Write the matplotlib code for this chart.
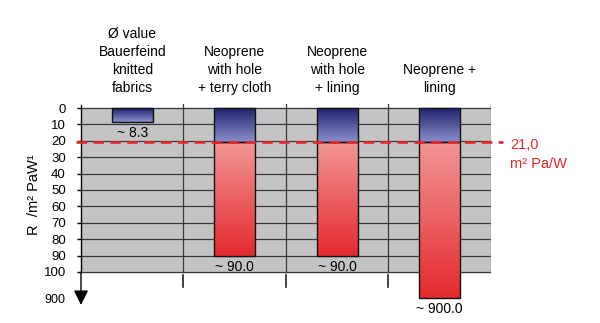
import numpy as np
import matplotlib
matplotlib.use("Agg")
import matplotlib.pyplot as plt
from matplotlib.colors import LinearSegmentedColormap
import matplotlib.transforms as mtransforms

plt.rcParams['font.family'] = ['Liberation Sans', 'DejaVu Sans']

categories = ["Ø value\nBauerfeind\nknitted\nfabrics",
              "Neoprene\nwith hole\n+ terry cloth",
              "Neoprene\nwith hole\n+ lining",
              "Neoprene +\nlining"]
values = [8.3, 90.0, 90.0, 900.0]
threshold = 21.0
threshold_label = "21,0\nm² Pa/W"
y_ticks = [0, 10, 20, 30, 40, 50, 60, 70, 80, 90, 100, 900]

BREAK = 100.0
SQUEEZE = 0.02  # everything past the break is compressed


def forward(v):
    v = np.asarray(v, dtype=float)
    return np.where(v <= BREAK, v, BREAK + (v - BREAK) * SQUEEZE)


def inverse(y):
    y = np.asarray(y, dtype=float)
    return np.where(y <= BREAK, y, BREAK + (y - BREAK) / SQUEEZE)


blue_cmap = LinearSegmentedColormap.from_list("blue", ["#1c206c", "#8b90cb"])
red_cmap = LinearSegmentedColormap.from_list("red", ["#f29696", "#e42a2e"])

fig = plt.figure(figsize=(6, 3.23), dpi=100)
ax = fig.add_axes([0.135, 0.0514, 0.6833, 0.6269])
ax.set_yscale('function', functions=(forward, inverse))
ax.set_xlim(-0.5, len(values) - 0.5)
ax.set_ylim(1150, -2.5)
ax.patch.set_visible(False)

# grey panel, horizontal grid, category separators
ax.axhspan(0, BREAK, color="#c4c4c4", zorder=0)
for t in y_ticks:
    if t <= BREAK:
        ax.axhline(t, color="#3a3a3a", lw=0.9, zorder=1)
for i in range(len(values)):
    ax.plot([i + 0.5, i + 0.5], [-2.4, BREAK], color="#3a3a3a", lw=0.9, zorder=1)
    if i < len(values) - 1:
        ax.plot([i + 0.5, i + 0.5], [190, 560], color="#222222", lw=1.2, zorder=1)

to_axes = ax.transData - ax.transAxes
gradient = np.linspace(0, 1, 256).reshape(-1, 1)
width = 0.4


def gradient_bar(x, lo, hi, cmap):
    bar = ax.bar(x, hi - lo, bottom=lo, width=width, facecolor="none",
                 edgecolor="#111111", linewidth=1.0, zorder=4)[0]
    (x0, y0), (x1, y1) = to_axes.transform([(x - width / 2, lo), (x + width / 2, hi)])
    img = ax.imshow(gradient, cmap=cmap, aspect='auto', transform=ax.transAxes,
                    extent=(x0, x1, y1, y0), zorder=3, interpolation='bilinear')
    img.set_clip_path(bar)


fig.canvas.draw()
for i, v in enumerate(values):
    gradient_bar(i, 0, min(v, threshold), blue_cmap)
    if v > threshold:
        gradient_bar(i, threshold, v, red_cmap)
    ax.annotate(f"~ {v:.1f}", xy=(i, v), xytext=(0, -3), textcoords='offset points',
                ha='center', va='top', fontsize=10, zorder=5)

# threshold line
ax.axhline(threshold, xmin=-0.012, xmax=1.029, color="#e8262b", lw=1.9,
           linestyle=(0, (4, 2.4)), zorder=6, clip_on=False)
ax.text(1.046, 0.748, threshold_label, transform=ax.transAxes, color="#e8262b",
        fontsize=10.5, linespacing=1.45, ha='left', va='center')

# category labels above the panel
label_tf = mtransforms.blended_transform_factory(ax.transData, ax.transAxes)
for i, c in enumerate(categories):
    ax.text(i, 1.044, c, transform=label_tf, ha='center', va='bottom',
            fontsize=10, linespacing=1.35)

# axis with break arrow
for s in ['top', 'right', 'bottom']:
    ax.spines[s].set_visible(False)
ax.spines['left'].set_bounds(-2, BREAK)
ax.spines['left'].set_linewidth(1.0)
ax.annotate("", xy=(-0.5, 1105), xytext=(-0.5, BREAK),
            arrowprops=dict(arrowstyle='-|>', color='black', lw=1.0,
                            mutation_scale=22, shrinkA=0, shrinkB=0),
            annotation_clip=False)

ax.set_xticks([])
ax.set_yticks(y_ticks)
ax.set_yticklabels([str(t) for t in y_ticks])
ax.tick_params(axis='y', length=3, width=1.0, pad=8, labelsize=9.5)
last = ax.yaxis.get_major_ticks()[-1]
last.tick1line.set_visible(False)
last.label1.set_fontsize(9)

ax.set_ylabel("R  /m² PaW¹", fontsize=10.5)
ax.yaxis.set_label_coords(-0.097, 0.55)

fig.savefig("out.png", dpi=100)
